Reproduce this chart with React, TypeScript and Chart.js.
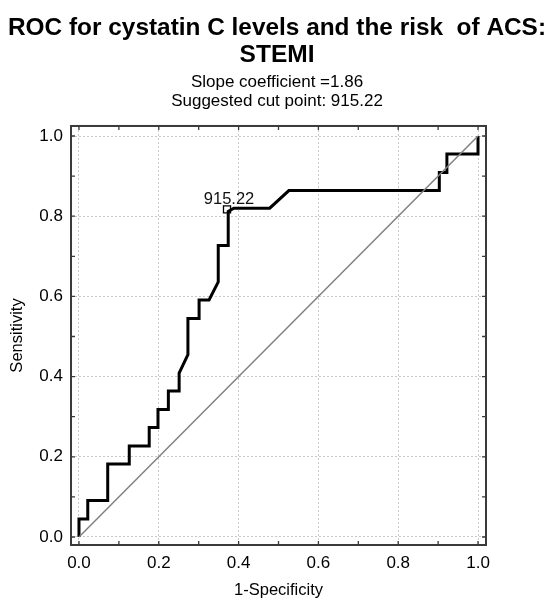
import React, { useEffect, useRef } from "react";
import { Chart, registerables } from "chart.js";

Chart.register(...registerables);

const titleLines = ["ROC for cystatin C levels and the risk  of ACS:", "STEMI"];
const subtitleLines = ["Slope coefficient =1.86", "Suggested cut point: 915.22"];
const xAxisTitle = "1-Specificity";
const yAxisTitle = "Sensitivity";

const rocFpr = [0, 0, 0.022, 0.022, 0.072, 0.072, 0.126, 0.126, 0.176, 0.176, 0.198, 0.198, 0.224, 0.224, 0.251, 0.251, 0.273, 0.273, 0.301, 0.301, 0.326, 0.349, 0.349, 0.374, 0.374, 0.388, 0.478, 0.526, 0.903, 0.903, 0.922, 0.922, 1.0, 1.0];
const rocTpr = [0, 0.045, 0.045, 0.091, 0.091, 0.182, 0.182, 0.227, 0.227, 0.273, 0.273, 0.318, 0.318, 0.364, 0.364, 0.409, 0.455, 0.545, 0.545, 0.591, 0.591, 0.636, 0.727, 0.727, 0.812, 0.82, 0.82, 0.864, 0.864, 0.909, 0.909, 0.955, 0.955, 1.0];

const refX = [0, 1];
const refY = [0, 1];

const cutX = [0.371];
const cutY = [0.817];
const cutLabel = "915.22";

const tickValues = [0, 0.1, 0.2, 0.3, 0.4, 0.5, 0.6, 0.7, 0.8, 0.9, 1.0];

const FONT = "'Liberation Sans', Arial, Helvetica, sans-serif";

const isMajor = (v: number) => Math.round(v * 10) % 2 === 0;

const framePlugin = {
  id: "frameTicks",
  afterDatasetsDraw(chart: any) {
    const { ctx, chartArea, scales } = chart;
    const { left, right, top, bottom } = chartArea;
    const xs = scales.x;
    const ys = scales.y;
    ctx.save();
    // cut point label
    const px = xs.getPixelForValue(cutX[0]);
    const py = ys.getPixelForValue(cutY[0]);
    ctx.fillStyle = "#111";
    ctx.font = `16.5px ${FONT}`;
    ctx.textAlign = "center";
    ctx.textBaseline = "alphabetic";
    ctx.fillText(cutLabel, px + 2, py - 5);
    // frame
    ctx.strokeStyle = "#3a3a3a";
    ctx.lineWidth = 2;
    ctx.strokeRect(left, top, right - left, bottom - top);
    // inward ticks
    ctx.lineWidth = 1.3;
    const tl = 4;
    tickValues.forEach((v) => {
      const x = xs.getPixelForValue(v);
      const y = ys.getPixelForValue(v);
      ctx.beginPath();
      ctx.moveTo(x, bottom);
      ctx.lineTo(x, bottom - tl);
      ctx.moveTo(x, top);
      ctx.lineTo(x, top + tl);
      ctx.moveTo(left, y);
      ctx.lineTo(left + tl, y);
      ctx.moveTo(right, y);
      ctx.lineTo(right - tl, y);
      ctx.stroke();
    });
    ctx.restore();
  },
};

export default function App() {
  const ref = useRef<HTMLCanvasElement | null>(null);

  useEffect(() => {
    if (!ref.current) return;
    const chart = new Chart(ref.current, {
      type: "scatter",
      data: {
        datasets: [
          {
            data: refX.map((x, i) => ({ x, y: refY[i] })),
            showLine: true,
            borderColor: "#808080",
            borderWidth: 1.5,
            pointRadius: 0,
            tension: 0,
          },
          {
            data: rocFpr.map((x, i) => ({ x, y: rocTpr[i] })),
            showLine: true,
            borderColor: "#000",
            borderWidth: 3,
            pointRadius: 0,
            tension: 0,
          },
          {
            data: cutX.map((x, i) => ({ x, y: cutY[i] })),
            showLine: false,
            pointStyle: "rect",
            pointRadius: 5,
            borderColor: "#000",
            borderWidth: 1.3,
            backgroundColor: "rgba(255,255,255,0)",
          },
        ],
      },
      options: {
        responsive: false,
        animation: false,
        layout: { padding: { left: 8, right: 0, top: 0, bottom: 0 } },
        plugins: {
          legend: { display: false },
          tooltip: { enabled: false },
          title: {
            display: true,
            text: titleLines,
            color: "#000",
            font: { family: FONT, size: 24.5, weight: "bold", lineHeight: 1.1 },
            padding: { top: 14.5, bottom: 4.7 },
          },
          subtitle: {
            display: true,
            text: subtitleLines,
            color: "#000",
            font: { family: FONT, size: 17, lineHeight: 1.12 },
            padding: { top: 0, bottom: 14.8 },
          },
        },
        scales: {
          x: {
            type: "linear",
            min: -0.02,
            max: 1.02,
            afterBuildTicks: (s: any) => {
              s.ticks = tickValues.map((v) => ({ value: v }));
            },
            afterFit: (s: any) => {
              s.height = 55;
            },
            ticks: {
              autoSkip: false,
              maxRotation: 0,
              padding: 8,
              color: "#000",
              font: { family: FONT, size: 17 },
              callback: (v: any) => (isMajor(Number(v)) ? Number(v).toFixed(1) : ""),
            },
            grid: {
              drawTicks: false,
              color: (c: any) => (c.tick && isMajor(c.tick.value) ? "#c8c8c8" : "rgba(0,0,0,0)"),
              lineWidth: 1,
            },
            border: { display: false, dash: [2, 2] },
            title: {
              display: true,
              text: xAxisTitle,
              color: "#000",
              font: { family: FONT, size: 16.5 },
              padding: { top: 0, bottom: 0 },
            },
          },
          y: {
            type: "linear",
            min: -0.02,
            max: 1.025,
            afterBuildTicks: (s: any) => {
              s.ticks = tickValues.map((v) => ({ value: v }));
            },
            afterFit: (s: any) => {
              s.width = 63;
            },
            ticks: {
              autoSkip: false,
              padding: 8,
              color: "#000",
              font: { family: FONT, size: 17 },
              callback: (v: any) => (isMajor(Number(v)) ? Number(v).toFixed(1) : ""),
            },
            grid: {
              drawTicks: false,
              color: (c: any) => (c.tick && isMajor(c.tick.value) ? "#c8c8c8" : "rgba(0,0,0,0)"),
              lineWidth: 1,
            },
            border: { display: false, dash: [2, 2] },
            title: {
              display: true,
              text: yAxisTitle,
              color: "#000",
              font: { family: FONT, size: 16.5 },
              padding: { top: 0, bottom: 0 },
            },
          },
          yRight: {
            type: "linear",
            position: "right",
            display: true,
            ticks: { display: false },
            grid: { display: false },
            border: { display: false },
            afterFit: (s: any) => {
              s.width = 60;
            },
          },
        },
      },
      plugins: [framePlugin],
    } as any);
    return () => chart.destroy();
  }, []);

  return (
    <div style={{ position: "fixed", left: 0, top: 0, width: 546, height: 600, background: "#fff" }}>
      <canvas ref={ref} width={546} height={600} />
    </div>
  );
}
